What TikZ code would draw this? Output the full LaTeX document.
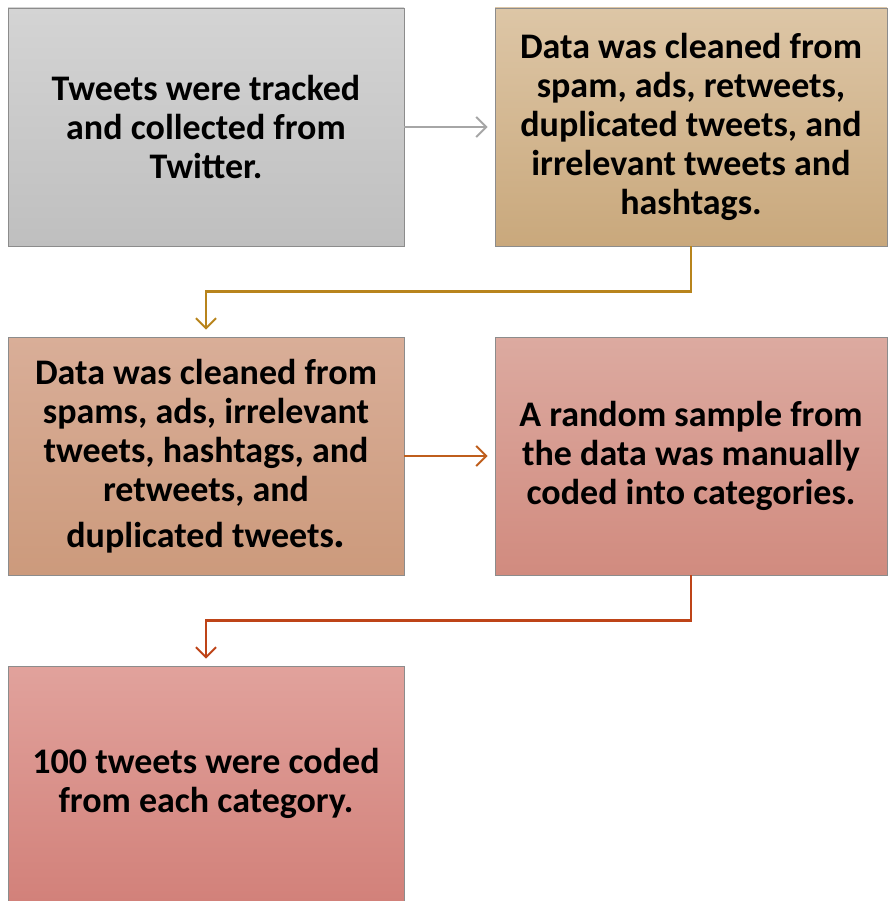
\documentclass[tikz,border=0pt]{standalone}
\usepackage{fontspec}
\setmainfont{Carlito}
\usepackage{tikz}
\usetikzlibrary{arrows.meta}

\definecolor{greytop}{HTML}{D4D4D4}
\definecolor{greybot}{HTML}{BFBFBF}
\definecolor{tantop}{HTML}{DDC6A6}
\definecolor{tanbot}{HTML}{C9A87C}
\definecolor{peachtop}{HTML}{D9AE98}
\definecolor{peachbot}{HTML}{CC9A7C}
\definecolor{rosetop}{HTML}{DCAAA0}
\definecolor{rosebot}{HTML}{D18B7F}
\definecolor{redtop}{HTML}{E1A29C}
\definecolor{redbot}{HTML}{D2817A}
\definecolor{arrowgrey}{HTML}{A6A6A6}
\definecolor{arrowgold}{HTML}{B8841C}
\definecolor{arroworange}{HTML}{BF5E1C}
\definecolor{arrowred}{HTML}{BE4418}

\tikzset{
  stage/.style={draw=black!45, line width=0.8pt, rectangle, align=center,
    font=\fontsize{36}{39}\selectfont\bfseries, inner sep=0pt},
  flow/.style={line width=2.2pt, draw=#1,
    -{Straight Barb[length=10pt,width=20pt,line width=2pt]}}
}

\begin{document}
\begin{tikzpicture}[x=1pt,y=-1pt]
\useasboundingbox (0,0) rectangle (888,901);
\node[stage, top color=greytop, bottom color=greybot,
  minimum width=396, minimum height=238] (tweets) at (206,127)
  {Tweets were tracked\\ and collected from\\ Twitter.};
\node[stage, top color=tantop, bottom color=tanbot,
  minimum width=392, minimum height=238] (clean) at (691,127)
  {Data was cleaned from\\ spam, ads, retweets,\\ duplicated tweets, and\\ irrelevant tweets and\\ hashtags.};
\node[stage, top color=peachtop, bottom color=peachbot,
  minimum width=396, minimum height=238] (cleanalt) at (206,456)
  {Data was cleaned from\\ spams, ads, irrelevant\\ tweets, hashtags, and\\ retweets, and\\[7pt] duplicated tweets{\fontsize{44}{39}\selectfont.}};
\node[stage, top color=rosetop, bottom color=rosebot,
  minimum width=392, minimum height=238] (sample) at (691,456)
  {A random sample from\\ the data was manually\\ coded into categories.};
\node[stage, top color=redtop, bottom color=redbot,
  minimum width=396, minimum height=235] (coded) at (206,783.5)
  {100 tweets were coded\\ from each category.};

\draw[flow=arrowgrey] (tweets.east) -- ([xshift=-7pt]clean.west);
\draw[flow=arrowgold] (clean.south) -- ++(0,-45pt) -| ([yshift=7pt]cleanalt.north);
\draw[flow=arroworange] (cleanalt.east) -- ([xshift=-7pt]sample.west);
\draw[flow=arrowred] (sample.south) -- ++(0,-45pt) -| ([yshift=7pt]coded.north);
\end{tikzpicture}
\end{document}
